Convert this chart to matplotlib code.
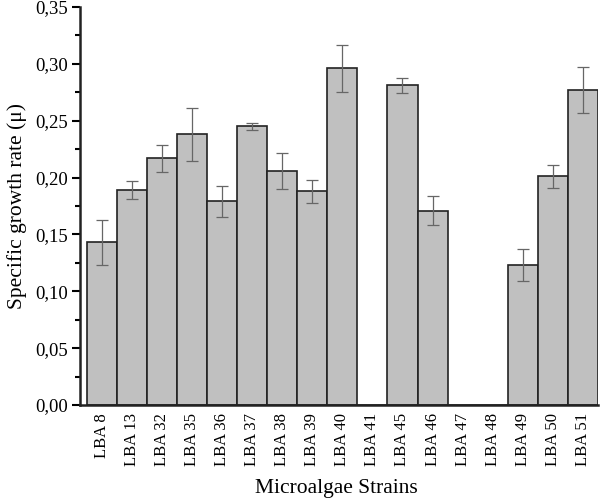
import matplotlib
matplotlib.use("Agg")
import matplotlib.pyplot as plt
from matplotlib.ticker import MultipleLocator, FuncFormatter

strains = ["LBA 8", "LBA 13", "LBA 32", "LBA 35", "LBA 36", "LBA 37", "LBA 38", "LBA 39",
           "LBA 40", "LBA 41", "LBA 45", "LBA 46", "LBA 47", "LBA 48", "LBA 49", "LBA 50", "LBA 51"]
growth = [0.143, 0.189, 0.217, 0.238, 0.179, 0.245, 0.206, 0.188,
          0.296, 0.0, 0.281, 0.171, 0.0, 0.0, 0.123, 0.201, 0.277]
errors = [0.020, 0.008, 0.012, 0.023, 0.014, 0.003, 0.016, 0.010,
          0.021, 0.0, 0.007, 0.013, 0.0, 0.0, 0.014, 0.010, 0.020]

plt.rcParams['font.family'] = ['Liberation Serif', 'DejaVu Serif']

fig = plt.figure(figsize=(6.0, 4.99), dpi=100)
ax = fig.add_axes([80/600, 1 - 405/499, 518/600, (405 - 7)/499])

x = list(range(len(strains)))
ax.bar(x, growth, width=1.0, color="#c0c0c0", edgecolor="#222222", linewidth=1.2,
       yerr=[e if g > 0 else 0 for g, e in zip(growth, errors)],
       error_kw=dict(ecolor="#666666", elinewidth=0.9, capsize=4, capthick=0.9))

ax.set_xlim(-0.72, 16.5)
ax.set_ylim(0, 0.35)
ax.yaxis.set_major_locator(MultipleLocator(0.05))
ax.yaxis.set_minor_locator(MultipleLocator(0.025))
ax.yaxis.set_major_formatter(FuncFormatter(lambda v, p: f"{v:.2f}".replace(".", ",")))
ax.set_xticks(x)
ax.set_xticklabels(strains, rotation=90, fontsize=12)
ax.tick_params(axis='x', length=0, pad=6)
ax.tick_params(axis='y', which='major', length=5.5, width=1.5, labelsize=13.5, direction='out', pad=3)
ax.tick_params(axis='y', which='minor', length=3.5, width=1.5, direction='out')

for s in ["top", "right"]:
    ax.spines[s].set_visible(False)
for s in ["left", "bottom"]:
    ax.spines[s].set_linewidth(1.8)
    ax.spines[s].set_color("#222222")

ax.set_ylabel("Specific growth rate (μ)", fontsize=15.5, labelpad=6)
fig.text(336/600, 1 - 488/499, "Microalgae Strains", fontsize=15.5, ha="center", va="center")

fig.savefig("out.png", dpi=100)
